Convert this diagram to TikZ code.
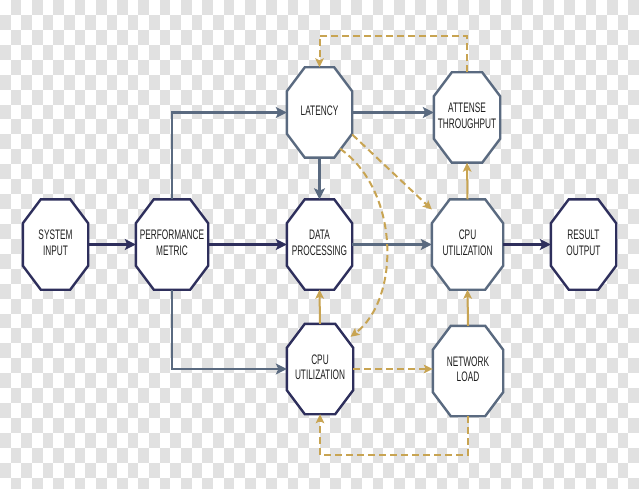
\documentclass[tikz,border=0pt]{standalone}
\usepackage{fontspec}
\setmainfont{Liberation Sans}[FakeStretch=0.6]
\usetikzlibrary{arrows.meta,calc}
\definecolor{navy}{HTML}{2E2F5C}
\definecolor{slate}{HTML}{5A6A80}
\definecolor{gold}{HTML}{C8A452}
\definecolor{checkg}{HTML}{E1E1E1}
\definecolor{txt}{HTML}{1E1E1E}
\pgfdeclarelayer{back}
\pgfdeclarelayer{shapes}
\pgfsetlayers{back,shapes,main}
\newcommand\olab[1]{\makebox[0pt]{\begin{tabular}{@{}c@{}}#1\end{tabular}}}
\newcommand\octo[2]{%
  \draw[#2, line width=2.4pt, fill=white, line join=miter]
    ($(#1.north west)+(18,0)$) -- ($(#1.north east)+(-18,0)$) --
    ($(#1.north east)+(0,24)$) -- ($(#1.south east)+(0,-24)$) --
    ($(#1.south east)+(-18,0)$) -- ($(#1.south west)+(18,0)$) --
    ($(#1.south west)+(0,-24)$) -- ($(#1.north west)+(0,24)$) -- cycle;}
\begin{document}
\begin{tikzpicture}[x=1pt,y=-1pt,
  oct/.style={rectangle, inner sep=0pt, minimum width=65pt, minimum height=90pt,
    text=txt, font=\fontsize{13.8}{15.6}\selectfont},
  arrn/.style={draw=navy, line width=2.3pt, -{Stealth[length=11pt,width=11pt,inset=2.5pt]}},
  arrs/.style={draw=slate, line width=2.1pt, -{Stealth[length=11pt,width=11pt,inset=2.5pt]}},
  arrg/.style={draw=gold, line width=2pt, -{Stealth[length=9pt,width=8.5pt,inset=2pt]}},
  arrgd/.style={arrg, dash pattern=on 7pt off 4pt},
]
\useasboundingbox (0,0) rectangle (639,489);
\begin{pgfonlayer}{back}
\fill[white] (0,0) rectangle (639,489);
\clip (0,0) rectangle (639,489);
\foreach \i in {0,...,59}{
  \foreach \j in {0,...,32}{
    \pgfmathtruncatemacro\s{mod(\i+\j,2)}
    \ifnum\s=1 \fill[checkg] (\i*10.65,\j*14.93) rectangle ++(10.65,14.93);\fi
  }
}
\end{pgfonlayer}

\node[oct] (si) at (55.5,244.5) {\olab{SYSTEM\\INPUT}};
\node[oct, minimum width=72pt] (pm) at (172,244.5) {\olab{PERFORMANCE\\METRIC}};
\node[oct] (lat) at (319.5,112.5) {\olab{LATENCY}};
\node[oct, minimum width=66pt] (att) at (467,117.5) {\olab{ATTENSE\\THROUGHPUT}};
\node[oct] (dp) at (319.5,244.5) {\olab{DATA\\PROCESSING}};
\node[oct, minimum width=71pt] (cpu) at (467.5,244.5) {\olab{CPU\\UTILIZATION}};
\node[oct] (res) at (583.5,244.5) {\olab{RESULT\\OUTPUT}};
\node[oct, minimum width=66pt] (cpub) at (320,369) {\olab{CPU\\UTILIZATION}};
\node[oct, minimum width=70pt] (net) at (468,371) {\olab{NETWORK\\LOAD}};

\begin{pgfonlayer}{shapes}
\octo{si}{navy}
\octo{pm}{navy}
\octo{lat}{slate}
\octo{att}{slate}
\octo{dp}{navy}
\octo{cpu}{slate}
\octo{res}{navy}
\octo{cpub}{navy}
\octo{net}{slate}
\end{pgfonlayer}

\coordinate (lt) at (400,36);
\coordinate (lb) at (400,455);

\draw[arrn] (si.east) -- (pm.west);
\draw[arrn] (pm.east) -- (dp.west);
\draw[arrs] (pm.north) |- (lat.west);
\draw[arrs] (pm.south) |- (cpub.west);
\draw[arrs] (lat.east) -- (lat.east -| att.west);
\draw[arrs] (lat.south) -- (dp.north);
\draw[arrs] (dp.east) -- (cpu.west);
\draw[arrn] (cpu.east) -- (res.west);

\draw[arrg] (cpu.north) -- (att.south);
\draw[arrg] (net.north) -- (cpu.south);
\draw[arrg] (cpub.north) -- (dp.south);

\draw[arrgd, line width=2.4pt] (cpub.east) -- (cpub.east -| net.west);
\draw[arrgd] (net.south) |- (lb) -| (cpub.south);
\draw[arrgd] (att.north) |- (lt) -| (lat.north);
\draw[arrgd] ($(lat.east)+(0,22)$) -- ($(cpu.west)+(0,-35)$);
\draw[arrgd] ($(lat.south)+(20.5,-9)$) .. controls +(60,42) and +(50,-38) .. ($(cpub.north)+(30.5,13)$);
\end{tikzpicture}
\end{document}
